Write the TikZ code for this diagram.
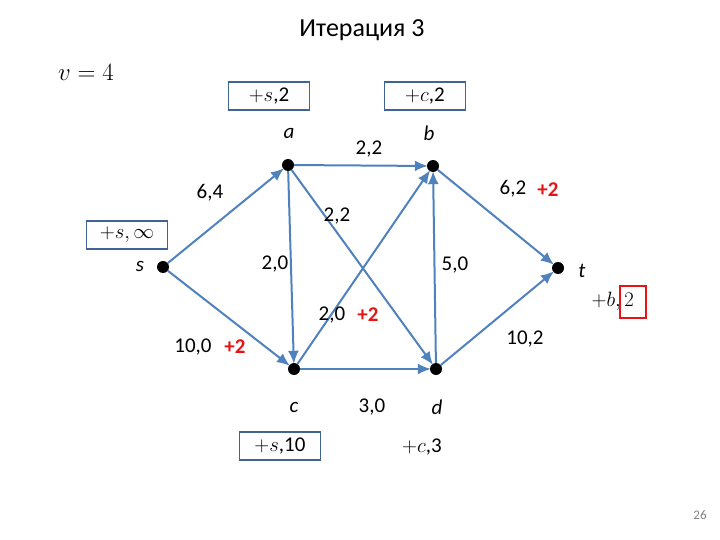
\documentclass[tikz,border=0pt]{standalone}
\usepackage{fontspec}
\setmainfont{Carlito}
\usetikzlibrary{arrows.meta}
\definecolor{edgeblue}{RGB}{79,129,189}
\definecolor{boxblue}{RGB}{65,100,150}
\definecolor{plusred}{RGB}{230,20,20}
\begin{document}
\begin{tikzpicture}[x=1pt,y=-1pt,
  dot/.style={circle,fill=black,minimum size=12pt,inner sep=0pt},
  edge/.style={draw=edgeblue,line width=2pt,-{Latex[length=13pt,width=11pt]},shorten >=-1pt},
  lbl/.style={font=\fontsize{21}{23}\selectfont,inner sep=0pt},
  plus/.style={font=\fontsize{21}{23}\selectfont\bfseries,text=plusred,inner sep=0pt},
  vname/.style={font=\fontsize{21}{23}\selectfont\itshape,inner sep=0pt},
  markbox/.style={draw=boxblue,line width=1.2pt,minimum width=81pt,minimum height=28pt,inner sep=0pt,font=\fontsize{21}{23}\selectfont}]
\useasboundingbox (0,0) rectangle (720,540);
% vertices
\node[dot] (s) at (163,267) {};
\node[dot] (a) at (288,165) {};
\node[dot] (b) at (433,166) {};
\node[dot] (t) at (558,268) {};
\node[dot] (c) at (294,369) {};
\node[dot] (d) at (436,369) {};
% edges
\draw[edge] (s) -- (a);
\draw[edge] (s) -- (c);
\draw[edge] (a) -- (b);
\draw[edge] (a) -- (c);
\draw[edge] (a) -- (d);
\draw[edge] (c) -- (b);
\draw[edge] (d) -- (b);
\draw[edge] (c) -- (d);
\draw[edge] (b) -- (t);
\draw[edge] (d) -- (t);
% title and value
\node[font=\fontsize{26}{28}\selectfont,inner sep=0pt] (title) at (362,30) {Итерация 3};
\node[font=\fontsize{23}{25}\selectfont,inner sep=0pt] (v) at (86,72) {$v=4$};
% vertex names
\node[vname] (la) at (289,133) {a};
\node[vname] (lb) at (429,133) {b};
\node[vname] (ls) at (140,266) {s};
\node[vname] (lt) at (582,271) {t};
\node[vname] (lc) at (294,407) {c};
\node[vname] (ld) at (437,407) {d};
% edge labels
\node[lbl] (e1) at (369,149) {2,2};
\node[lbl] (e2) at (210,193) {6,4};
\node[lbl] (e3) at (513,189) {6,2};
\node[plus] (p3) at (548,190) {+2};
\node[lbl] (e4) at (337,216) {2,2};
\node[lbl] (e5) at (275,264) {2,0};
\node[lbl] (e6) at (455,265) {5,0};
\node[lbl] (e7) at (332,315) {2,0};
\node[plus] (p7) at (368,315) {+2};
\node[lbl] (e8) at (193,347) {10,0};
\node[plus] (p8) at (235,347) {+2};
\node[lbl] (e9) at (525,339) {10,2};
\node[lbl] (e10) at (372,407) {3,0};
% marks
\node[markbox] (ma) at (269,96) {$+s$,2};
\node[markbox] (mb) at (425,96) {$+c$,2};
\node[markbox] (ms) at (127,235) {$+s,\infty$};
\node[markbox] (mc) at (280,446) {$+s$,10};
\node[lbl] (md) at (422,447) {$+c$,3};
\node[lbl,anchor=east] (mt) at (634,301) {$+b,2$};
\node[draw=plusred,line width=1.2pt,minimum width=26pt,minimum height=32pt,inner sep=0pt] (mtbox) at (633,302) {};
\node[font=\fontsize{13}{15}\selectfont,text=gray,inner sep=0pt] (pg) at (700,515) {26};
\end{tikzpicture}
\end{document}
